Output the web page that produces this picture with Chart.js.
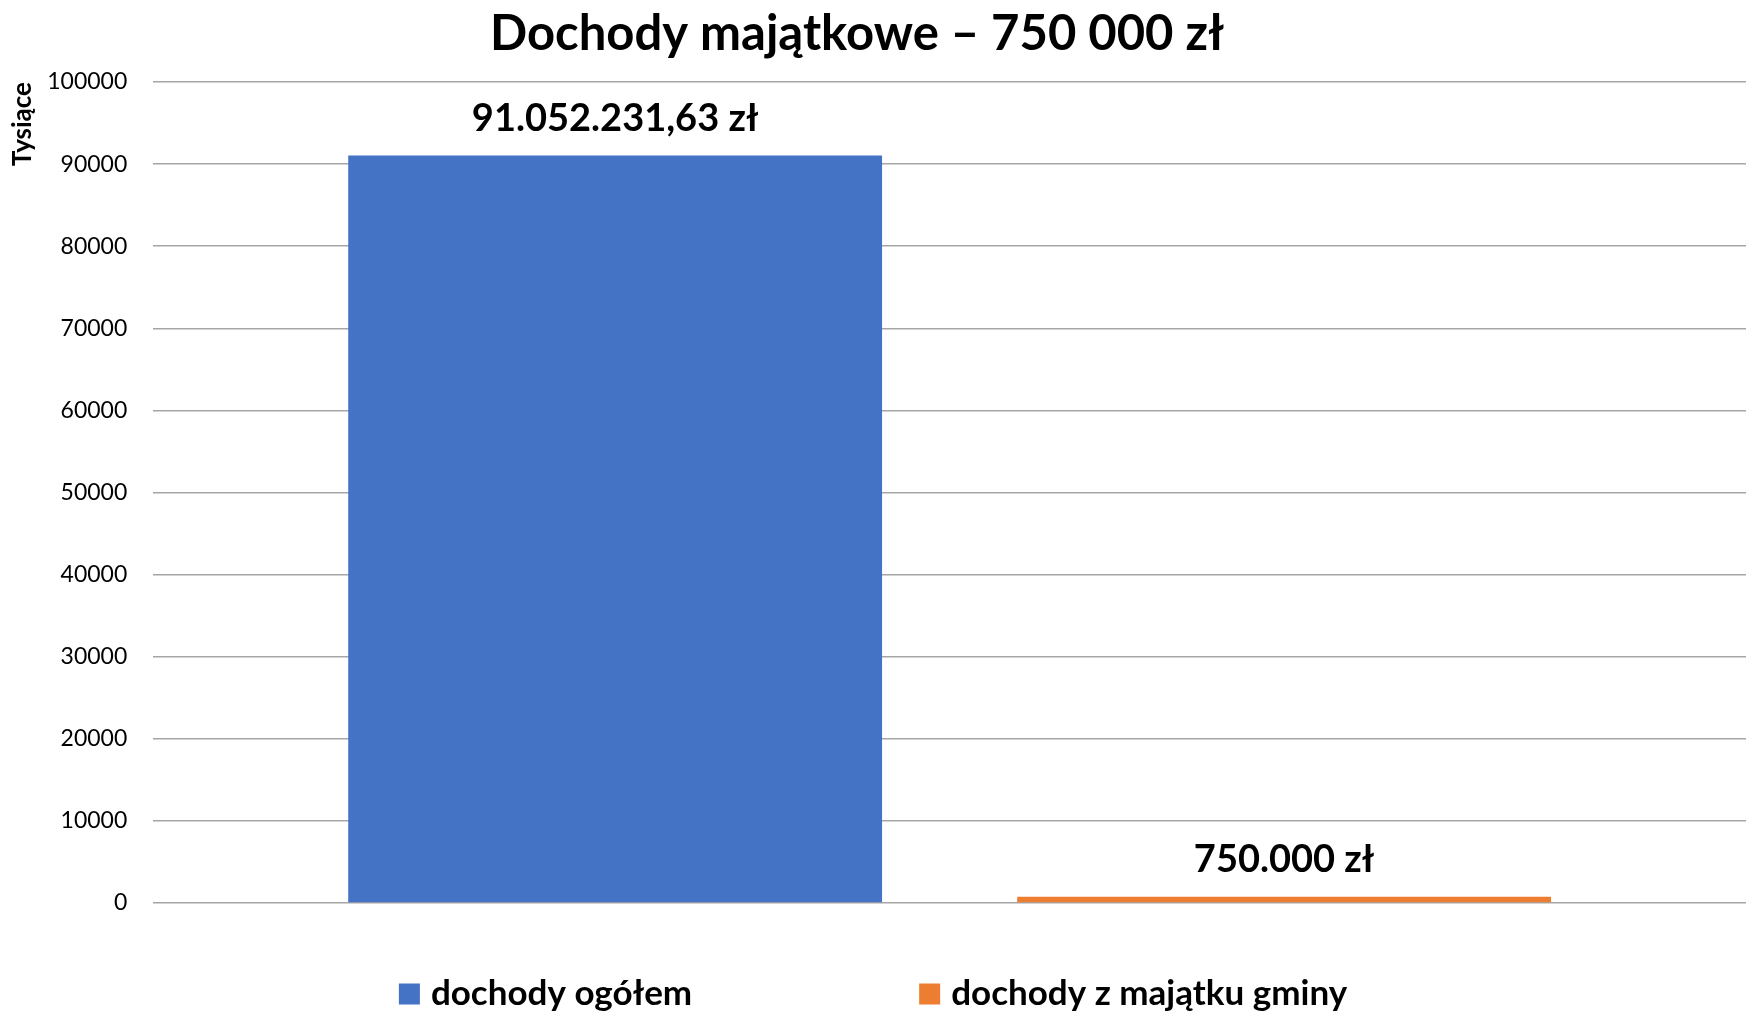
<!DOCTYPE html>
<html lang="pl">
<head>
<meta charset="utf-8">
<title>Dochody majątkowe</title>
<script src="https://cdn.jsdelivr.net/npm/chart.js@4/dist/chart.umd.min.js"></script>
<style>
  html, body { margin: 0; padding: 0; background: #fff; }
  #wrap { width: 1746px; height: 1011px; position: relative; }
</style>
</head>
<body>
<div id="wrap"><canvas id="incomeChart"></canvas></div>
<script>
// values in thousands of zł
const categories = [''];
const seriesNames = ['dochody ogółem', 'dochody z majątku gminy'];
const totalIncome = [91052.23163];
const propertyIncome = [750];
const valueLabels = ['91.052.231,63 zł', '750.000 zł'];
const seriesColors = ['#4472C4', '#ED7D31'];
const chartTitle = 'Dochody majątkowe – 750 000 zł';

Chart.defaults.font.family = 'Lato, "Open Sans", sans-serif';
Chart.defaults.color = '#000';

// title (drawn by hand, it sits a bit left of centre in the original)
const topTitle = {
  id: 'topTitle',
  afterDraw(chart) {
    const ctx = chart.ctx;
    ctx.save();
    ctx.font = 'bold 49px Lato';
    ctx.textAlign = 'center';
    ctx.textBaseline = 'middle';
    ctx.fillStyle = '#000';
    ctx.fillText(chartTitle, chart.width / 2 - 16, 34);
    ctx.restore();
  }
};

// labels above the bars
const barLabels = {
  id: 'barLabels',
  afterDatasetsDraw(chart) {
    const ctx = chart.ctx;
    ctx.save();
    ctx.font = 'bold 38px Lato';
    ctx.textAlign = 'center';
    ctx.textBaseline = 'middle';
    ctx.fillStyle = '#000';
    chart.data.datasets.forEach((ds, i) => {
      const bar = chart.getDatasetMeta(i).data[0];
      ctx.fillText(valueLabels[i], bar.x, bar.y - 37);
    });
    ctx.restore();
  }
};

// wide-spaced legend at the bottom
const bottomLegend = {
  id: 'bottomLegend',
  afterDraw(chart) {
    const ctx = chart.ctx;
    const sets = chart.data.datasets;
    const box = 21, gap = 11, spacing = 227, y = 994;
    ctx.save();
    ctx.font = 'bold 35px Lato';
    ctx.textBaseline = 'middle';
    const widths = sets.map(d => box + gap + ctx.measureText(d.label).width);
    const total = widths.reduce((a, b) => a + b, 0) + spacing * (sets.length - 1);
    let x = (chart.width - total) / 2;
    sets.forEach((d, i) => {
      ctx.fillStyle = d.backgroundColor;
      ctx.fillRect(x, y - box / 2, box, box);
      ctx.fillStyle = '#000';
      ctx.fillText(d.label, x + box + gap, y);
      x += widths[i] + spacing;
    });
    ctx.restore();
  }
};

const ctx = document.getElementById('incomeChart').getContext('2d');
new Chart(ctx, {
  type: 'bar',
  data: {
    labels: categories,
    datasets: [
      { label: seriesNames[0], data: totalIncome, backgroundColor: seriesColors[0] },
      { label: seriesNames[1], data: propertyIncome, backgroundColor: seriesColors[1] }
    ]
  },
  options: {
    responsive: true,
    maintainAspectRatio: false,
    animation: false,
    categoryPercentage: 0.84,
    barPercentage: 0.798,
    layout: { padding: { left: 0, right: 0, top: 82, bottom: 108 } },
    plugins: {
      legend: { display: false },
      tooltip: { enabled: false },
      title: { display: false }
    },
    scales: {
      x: { display: false },
      y: {
        min: 0,
        max: 100000,
        border: { display: false },
        grid: { color: '#a6a6a6', lineWidth: 1.5, drawTicks: true, tickLength: 26, tickColor: 'rgba(0,0,0,0)' },
        ticks: {
          stepSize: 10000,
          padding: 0,
          color: '#000',
          font: { size: 23 },
          callback: v => String(v)
        },
        title: {
          display: true,
          text: 'Tysiące',
          align: 'end',
          color: '#000',
          font: { size: 26, weight: 'bold' },
          padding: { top: 7, bottom: 9 }
        }
      }
    }
  },
  plugins: [barLabels, bottomLegend, topTitle]
});
</script>
</body>
</html>
